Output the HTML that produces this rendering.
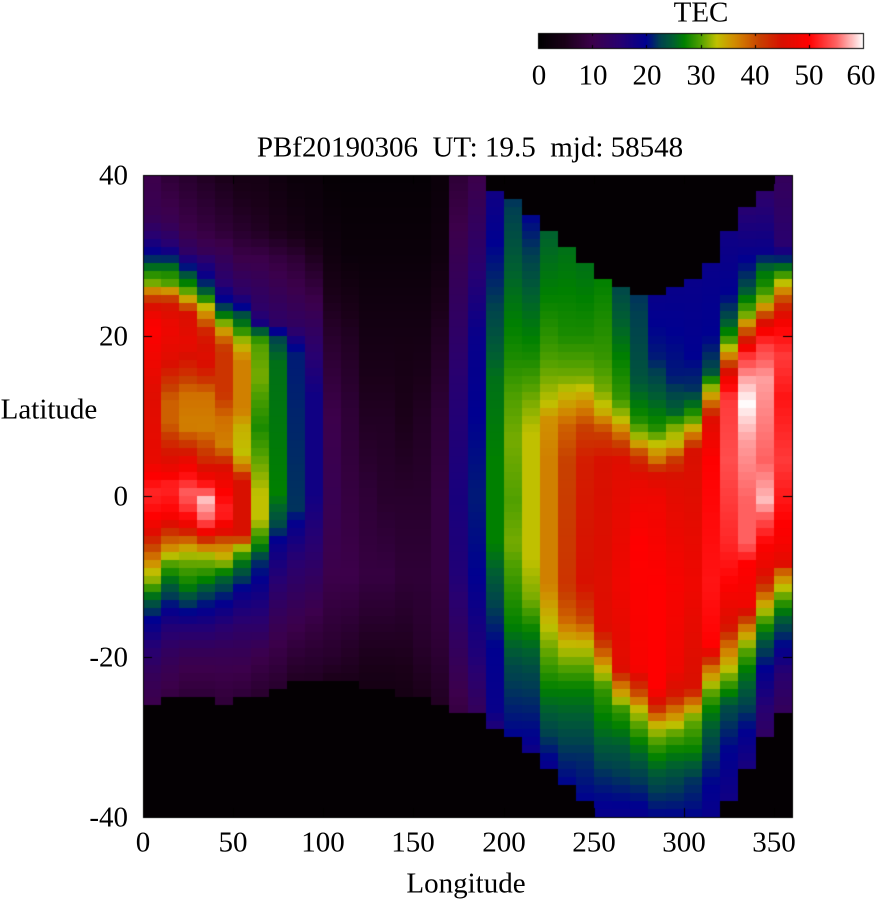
<!DOCTYPE html>
<html><head><meta charset="utf-8"><style>
html,body{margin:0;padding:0;background:#fff;}
body{width:877px;height:900px;position:relative;overflow:hidden;font-family:"Liberation Serif",serif;color:#000;}
.t{position:absolute;font-size:29px;line-height:29px;white-space:nowrap;transform:translate(-50%,-50%);}
.r{position:absolute;font-size:29px;line-height:29px;white-space:nowrap;transform:translate(-100%,-50%);}
canvas{position:absolute;left:0;top:0;}
</style></head><body>
<canvas id="c" width="877" height="900"></canvas>
<div class="t" style="left:701px;top:13px;">TEC</div>
<div class="t" style="left:539px;top:76px;">0</div>
<div class="t" style="left:593px;top:76px;">10</div>
<div class="t" style="left:647px;top:76px;">20</div>
<div class="t" style="left:701px;top:76px;">30</div>
<div class="t" style="left:755px;top:76px;">40</div>
<div class="t" style="left:809px;top:76px;">50</div>
<div class="t" style="left:861px;top:76px;">60</div>
<div class="t" style="left:470px;top:148px;">PBf20190306&nbsp; UT: 19.5&nbsp; mjd: 58548</div>
<div class="r" style="left:128px;top:176px;">40</div>
<div class="r" style="left:128px;top:337px;">20</div>
<div class="r" style="left:128px;top:497px;">0</div>
<div class="r" style="left:128px;top:658px;">-20</div>
<div class="r" style="left:128px;top:818px;">-40</div>
<div class="t" style="left:49px;top:410px;">Latitude</div>
<div class="t" style="left:143px;top:843px;">0</div>
<div class="t" style="left:233px;top:843px;">50</div>
<div class="t" style="left:323px;top:843px;">100</div>
<div class="t" style="left:413px;top:843px;">150</div>
<div class="t" style="left:504px;top:843px;">200</div>
<div class="t" style="left:594px;top:843px;">250</div>
<div class="t" style="left:684px;top:843px;">300</div>
<div class="t" style="left:774px;top:843px;">350</div>
<div class="t" style="left:466px;top:884px;">Longitude</div>
<script>
var stops=[[0,[0,0,0]],[5,[26,0,24]],[10,[60,0,75]],[15,[40,0,112]],[20,[0,0,144]],[22.5,[0,64,80]],[25,[0,96,48]],[27,[0,128,0]],[30,[80,160,0]],[33,[192,192,0]],[36,[208,144,0]],[38,[208,112,0]],[41,[200,64,0]],[45,[216,16,0]],[50,[255,0,0]],[55,[255,96,96]],[60,[255,255,255]]];
function cmap(v){if(v<=0)return stops[0][1];if(v>=60)return stops[stops.length-1][1];
for(var i=1;i<stops.length;i++){if(v<=stops[i][0]){var a=stops[i-1],b=stops[i],f=(v-a[0])/(b[0]-a[0]);
return [a[1][0]+(b[1][0]-a[1][0])*f,a[1][1]+(b[1][1]-a[1][1])*f,a[1][2]+(b[1][2]-a[1][2])*f];}}}
var C=[
[40,-26,[[40,10],[35,11],[33,14],[31,18],[29.4,22],[28.2,27],[26.5,31],[25.3,38],[24.2,43],[23,47],[21,50],[17,48],[12.8,46],[4.5,47],[2.4,50],[0.3,52],[-2.6,50],[-4.6,46],[-5.9,42],[-8,37],[-9.6,33],[-11,31],[-12.1,27],[-13.8,23],[-15.5,20],[-18.4,16],[-22,12],[-26,10]]],
[40,-25,[[40,8],[34,11],[31,16],[29.4,22],[28.2,27],[26.5,30],[25.3,37],[24,44],[21,48],[17,46],[14.9,43],[12,39],[9,39],[6.6,43],[3.7,47],[1.2,52],[-2.2,50],[-4.6,42],[-6.3,37],[-8,31],[-10,27],[-12.1,23],[-14,20],[-16.3,16],[-20,12],[-25,9]]],
[40,-25,[[40,7],[33,10],[30,14],[29.4,17],[28.2,22],[26.5,27],[25.3,31],[24,37],[22.8,45],[19,47],[15.7,43],[12.8,38],[8.6,37],[6,43],[4.5,47],[0.3,55],[-2,52],[-3.8,47],[-5.9,37],[-7,33],[-8.8,30],[-11.3,27],[-13,23],[-14.6,20],[-16.3,16],[-20,11],[-25,8]]],
[40,-25,[[40,6],[33,9],[30,12],[29.4,15],[27.3,19],[26,23],[24.8,27],[23.6,33],[22,38],[20.3,44],[17,46],[14.9,43],[12.8,38],[8.6,37],[4.5,43],[2.4,48],[-0.5,58],[-3,55],[-4.2,50],[-6.3,38],[-7.1,33],[-8.8,30],[-10.5,27],[-12.1,23],[-14.6,19],[-16.3,16],[-20,11],[-25,8]]],
[40,-26,[[40,5],[33,8],[29.4,12],[26.5,15],[24.8,19],[23.6,22],[22.4,27],[21.1,33],[19.9,38],[18.2,42],[12.8,42],[9.5,38],[6.2,37],[3.7,45],[0.3,50],[-2.2,52],[-4.6,46],[-5.9,38],[-8,33],[-9.6,27],[-11.3,23],[-13.8,19],[-16.3,15],[-20,11],[-26,8]]],
[40,-25,[[40,4],[33,7],[29.4,10],[25.3,14],[24,18],[22.8,23],[21.1,27],[19.9,31],[19,33],[17,37],[10.7,37],[8.6,34],[5.3,33],[3.7,37],[2,45],[-5,45],[-6.3,33],[-8,27],[-10,23],[-12.1,19],[-16.3,14],[-20,11],[-25,8]]],
[40,-25,[[40,4],[33,6],[29.4,10],[23.2,14],[21.1,18],[20.3,27],[19,30],[14.9,31],[8.6,28],[0.3,33],[-3,33],[-4.6,30],[-6.3,27],[-8,22],[-12.1,18],[-16.3,14],[-20,10],[-25,7]]],
[40,-24.2,[[40,3],[33,5],[29.4,9],[21,14],[20.3,22],[17,26],[0.3,27],[-3.8,23],[-5.9,19],[-12.1,14],[-16.3,11],[-24,7]]],
[40,-23.2,[[40,2],[33,4],[29.4,8],[21,13],[18.2,21],[-1.7,22],[-3.8,19],[-8,15],[-16.3,10],[-23,6]]],
[40,-23.2,[[40,2],[33,3],[29.4,6],[19,14],[12.8,18],[0.3,18],[-8,14],[-16.3,9],[-23,6]]],
[40,-23.2,[[40,1],[30,3],[20,7],[10,10],[0,11],[-10,10],[-20,7],[-23,5]]],
[40,-23.2,[[40,1],[30,2],[20,6],[10,8],[0,9],[-10,10],[-18,7],[-23,5]]],
[40,-24.2,[[40,1],[30,2],[20,4],[10,6],[0,8],[-10,9],[-18,6],[-24,4]]],
[40,-24.2,[[40,1],[30,2],[20,4],[10,6],[0,7],[-10,9],[-18,6],[-24,4]]],
[40,-25.1,[[40,1],[30,2],[20,4],[10,5],[0,7],[-10,8],[-18,6],[-25,4]]],
[40,-25.1,[[40,1],[30,2],[20,4],[10,6],[0,7],[-10,8],[-18,7],[-25,5]]],
[40,-26.1,[[40,2],[30,3],[20,6],[10,8],[0,9],[-10,9],[-18,8],[-26,6]]],
[40,-27,[[40,8],[30,11],[15,15],[0,17],[-10,16],[-20,12],[-27,9]]],
[39.7,-27,[[40,10],[30,14],[20,19],[0,21],[-10,20],[-20,16],[-27,12]]],
[37.6,-29.2,[[38,18],[25.1,22],[14.8,26],[4.4,27],[-5.9,27],[-11,24],[-18.8,20],[-26.6,19],[-29,16]]],
[36.6,-30,[[37,22],[25,26],[17.4,28],[12.2,30],[7,31],[-0.7,30],[-5.9,31],[-11,29],[-16.3,27],[-21.4,23],[-30,20]]],
[34.7,-32.3,[[35,20],[25,25],[17,28],[12,31],[8,33],[-8,33],[-13,31],[-17,27],[-22,23],[-30,20],[-32,18]]],
[32.7,-34.3,[[33,25],[25,27],[19,29],[14.8,31],[11.6,33],[9.6,36],[4.4,37],[-11,37],[-16.3,33],[-18.8,31],[-24,27],[-29.2,23],[-34,19]]],
[30.6,-36.2,[[31,26],[20,28],[14.8,31],[11.6,35],[8.6,39],[4.4,41],[-11,42],[-15.2,39],[-18.8,33],[-24,27],[-31.8,22],[-36,20]]],
[28.6,-38.3,[[29,26],[20,28],[14.8,31],[11.6,36],[8.6,41],[4.4,44],[-11,45],[-15.2,41],[-18.8,33],[-24,27],[-31.8,22],[-38,20]]],
[26.7,-40,[[27,27],[17.4,29],[13.2,31],[10.6,34],[8,41],[4.4,45],[-16.3,46],[-18.8,41],[-21.4,34],[-24,29],[-29.2,26],[-34.4,22],[-40,19]]],
[25.7,-40,[[26,23],[17.4,27],[12.2,29],[9.6,33],[7,40],[4.4,46],[-11,48],[-21.4,46],[-23.5,38],[-26.6,29],[-31.8,24],[-40,19]]],
[24.6,-40,[[25,22],[14.8,24],[9.6,28],[7,33],[5,42],[1.8,47],[-5.9,50],[-21.4,49],[-25,39],[-26.6,33],[-30.7,27],[-34.4,23],[-40,19]]],
[24.6,-40,[[25,19],[17.4,21],[12.2,25],[8.6,28],[6.5,33],[4.4,38],[2.9,45],[0,48],[-11,50],[-24,50],[-26.6,42],[-28.7,33],[-31.8,28],[-35.9,23],[-40,20]]],
[25.7,-40,[[26,19],[14.8,21],[10.6,25],[8.6,31],[6.5,34],[4.4,42],[1.8,46],[-11,49],[-21.4,48],[-25,44],[-26.6,38],[-29.2,31],[-31.8,27],[-35.4,23],[-40,20]]],
[26.7,-40,[[27,19],[17.4,20],[13.2,22],[9.6,30],[7.5,38],[5.5,45],[-11,48],[-24,45],[-25.6,38],[-27.6,31],[-31.8,27],[-35.4,22],[-40,20]]],
[28.6,-40,[[29,19],[20,20],[15.8,23],[13.7,31],[11.7,38],[9.6,46],[4.4,50],[-11,51],[-18.8,50],[-21.4,38],[-24,31],[-26.6,27],[-30.7,23],[-35.9,20],[-40,19]]],
[32.7,-38.3,[[33,18],[25.1,20],[22.5,23],[20,28],[18.4,33],[16.3,42],[14.8,48],[12.2,53],[4.4,54],[-5.9,52],[-11,50],[-16.3,45],[-18.8,38],[-21.4,33],[-24,28],[-26.6,23],[-31.8,20],[-38,18]]],
[35.7,-34.3,[[36,15],[30.3,19],[26.2,23],[24,28],[22.5,31],[21,38],[18.9,47],[17.4,53],[14.8,57],[11.7,60],[7,57],[-0.7,55],[-5.9,55],[-8.5,50],[-13.7,48],[-16.3,38],[-18.8,31],[-21.4,27],[-25.6,23],[-29.2,20],[-34,17]]],
[37.6,-30,[[38,14],[30.3,19],[28.2,26],[26.2,28],[24.6,31],[23,38],[21,48],[19,53],[14.8,57],[4.4,55],[-0.7,58],[-3,54],[-5.9,50],[-9,47],[-11,43],[-13.7,34],[-16.3,28],[-18.8,23],[-21.4,20],[-26.6,15],[-30,13]]],
[39.7,-27,[[40,12],[31,15],[28.2,27],[26.2,34],[24,42],[21,50],[17.4,53],[12.2,51],[4.4,53],[-0.7,51],[-5.9,49],[-8.5,46],[-9.5,39],[-11,34],[-13.7,28],[-16.3,23],[-18.8,20],[-22,15],[-27,12]]]
];
function prof(p,lat){if(lat>=p[0][0])return p[0][1];if(lat<=p[p.length-1][0])return p[p.length-1][1];
for(var i=1;i<p.length;i++){if(lat>=p[i][0]){var a=p[i-1],b=p[i],f=(lat-a[0])/(b[0]-a[0]);return a[1]+(b[1]-a[1])*f;}}return 0;}
var cv=document.getElementById('c'),ctx=cv.getContext('2d');
var X0=143,X1=792,Y0=175,Y1=817,cw=(X1-X0)/36,rh=(Y1-Y0)/80;
for(var c=0;c<36;c++){var col=C[c];for(var r=0;r<80;r++){var lat=40-r-0.5;var v;
if(lat>col[0]||lat<col[1])v=0.7;else v=prof(col[2],lat);
var rgb=cmap(v);ctx.fillStyle='rgb('+Math.round(rgb[0])+','+Math.round(rgb[1])+','+Math.round(rgb[2])+')';
var x=Math.round(X0+c*cw),xe=Math.round(X0+(c+1)*cw),y=Math.round(Y0+r*rh),ye=Math.round(Y0+(r+1)*rh);
ctx.fillRect(x,y,xe-x,ye-y);}}
ctx.strokeStyle='#000';ctx.lineWidth=1;
ctx.strokeRect(X0+0.5,Y0+0.5,X1-X0,Y1-Y0);
ctx.beginPath();
for(var i=0;i<=7;i++){var x=Math.round(X0+i*50*(X1-X0)/360)+0.5;ctx.moveTo(x,Y1);ctx.lineTo(x,Y1-9);ctx.moveTo(x,Y0);ctx.lineTo(x,Y0+9);}
for(var j=0;j<=4;j++){var y=Math.round(Y0+j*(Y1-Y0)/4)+0.5;ctx.moveTo(X0,y);ctx.lineTo(X0+9,y);ctx.moveTo(X1,y);ctx.lineTo(X1-9,y);}
ctx.stroke();
var bx0=538,bx1=863,by0=33,by1=48;
for(var x=bx0;x<bx1;x++){var v=(x-bx0+0.5)/(bx1-bx0)*60;var rgb=cmap(v);ctx.fillStyle='rgb('+Math.round(rgb[0])+','+Math.round(rgb[1])+','+Math.round(rgb[2])+')';ctx.fillRect(x,by0,1,by1-by0);}
ctx.strokeRect(bx0+0.5,by0+0.5,bx1-bx0,by1-by0);
ctx.beginPath();for(var k=1;k<6;k++){var x=Math.round(bx0+k*(bx1-bx0)/6)+0.5;ctx.moveTo(x,by0);ctx.lineTo(x,by0+3);ctx.moveTo(x,by1);ctx.lineTo(x,by1-3);}ctx.stroke();
</script>
</body></html>
